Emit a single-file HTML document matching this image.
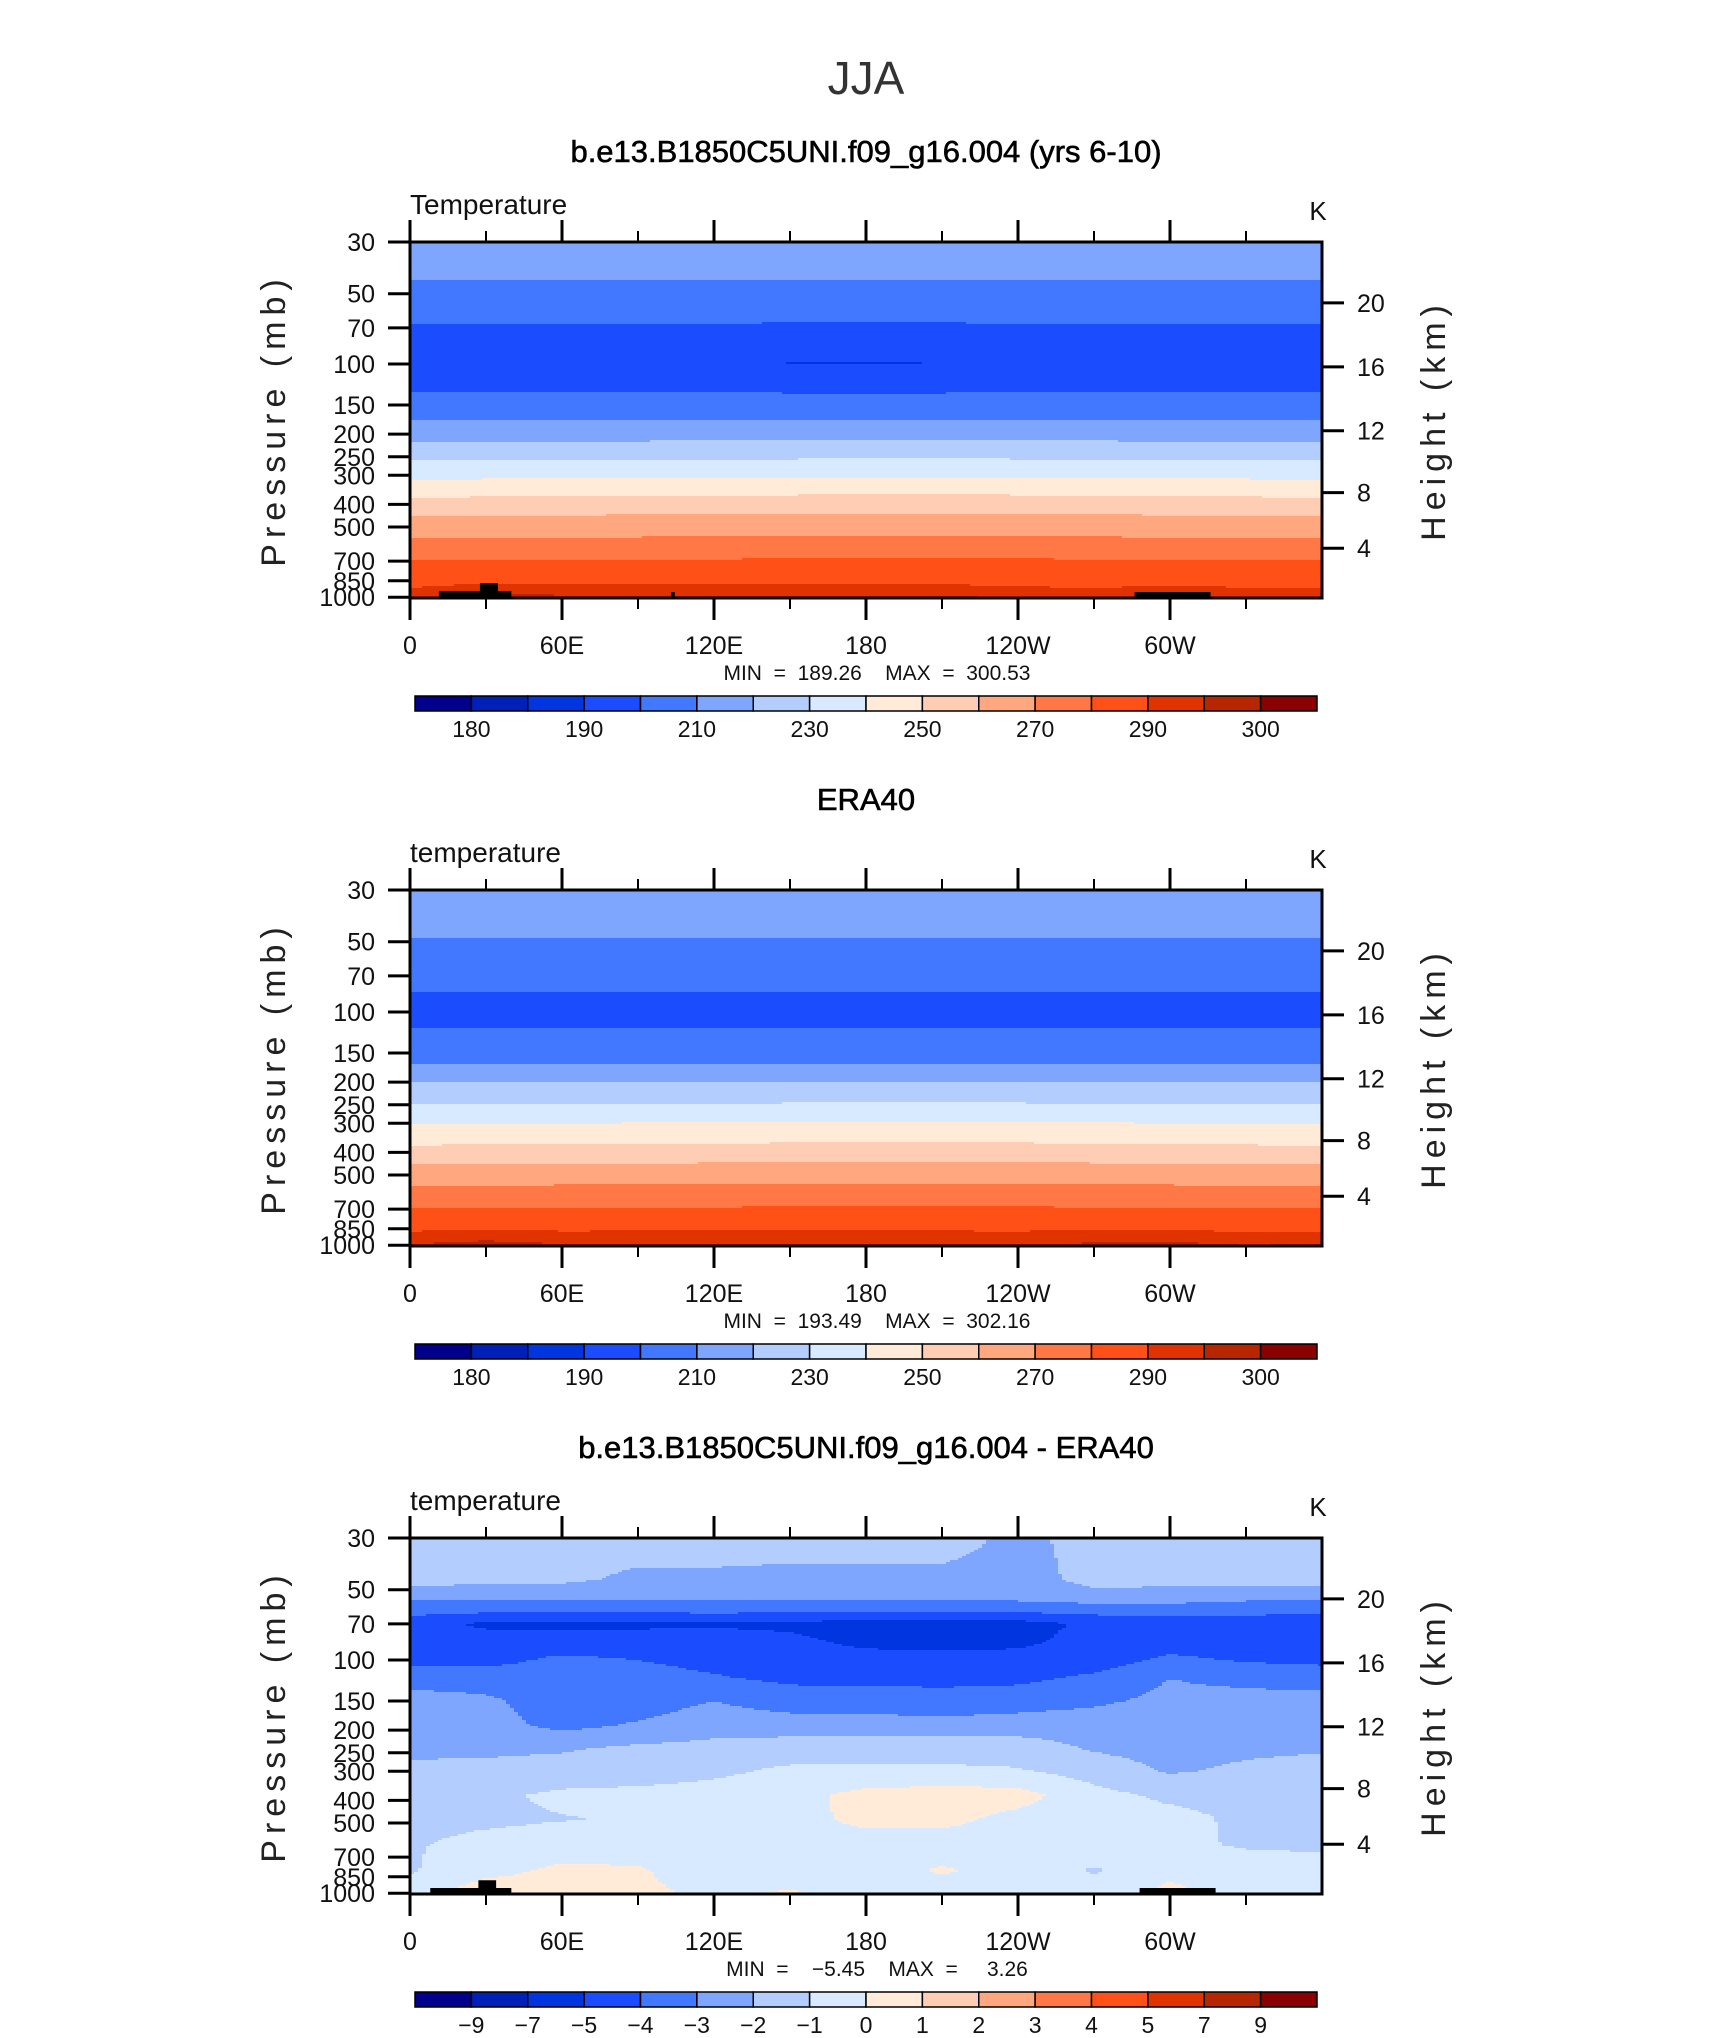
<!DOCTYPE html>
<html><head><meta charset="utf-8">
<style>
html,body{margin:0;padding:0;background:#fff;}
svg{display:block;font-family:"Liberation Sans",sans-serif;}
</style></head>
<body>
<svg id="fig" width="1710" height="2038" viewBox="0 0 1710 2038" xmlns="http://www.w3.org/2000/svg">
<rect x="0" y="0" width="1710" height="2038" fill="#fff"/>
<text x="866" y="94" font-size="46" text-anchor="middle" fill="#333">JJA</text>
</svg>
<script>
// ---------- data ----------
const tempLevels=[180,185,190,200,210,220,230,240,250,260,270,280,290,295,300];
const tempLabels=["","180","","190","","210","","230","","250","","270","","290","","300"];
const diffLevels=[-9,-7,-5,-4,-3,-2,-1,0,1,2,3,4,5,7,9];
const diffLabels=["","-9","-7","-5","-4","-3","-2","-1","0","1","2","3","4","5","7","9"];
const palette=["#00008c","#0020b8","#0035e0","#1b4dff","#4277ff","#7ea6ff","#b3cdff","#d8eaff","#ffebd8","#ffcdb3","#ffa880","#ff7845","#ff5018","#e13300","#b82600","#8b0000"];
const presTicks=[30,50,70,100,150,200,250,300,400,500,700,850,1000];
const heightTicks=[20,16,12,8,4];
const lonTicks=[0,60,120,180,240,300];
const lonTickLabels=["0","60E","120E","180","120W","60W"];
const anomLons=[0,30,60,90,120,150,180,210,240,270,300,330,360];

// panel 1 (model) profile
const modelPres=[30,44,67,100,132,174,214,257,309,368,443,552,689,908,1000];
const modelTemp=[216,210,200,190.6,200,210,220,230,240,250,260,270,280,290,294];
const modelStratAnom=[0.5,0.5,0.5,0.5,0.3,-0.9,-0.9,-0.8,0.3,0.5,0.5,0.5,0.5];
const modelTropAnom=[-0.8,-0.6,-0.3,0,0.3,0.6,0.8,0.8,0.6,0.2,-0.3,-0.6,-0.8];
const modelSfcAnom=[0,3,2,2,1.5,1.5,1.5,1.5,0.5,-0.5,1.5,0,-0.5];
// panel 2 (ERA40) profile
const eraPres=[30,48.5,81.6,100,117,166,200,247,299,368,446,549,689,880,1000];
const eraTemp=[216,210,200,197,200,210,220,230,240,250,260,270,280,290,294.5];
const eraStratAnom=[0,0,0,0,0,0,0,0,0,0,0,0,0];
const eraTropAnom=[-0.7,-0.5,-0.3,0,0.3,0.6,0.8,0.8,0.6,0.2,-0.3,-0.6,-0.7];
const eraSfcAnom=[1,2.5,1,1,1,1,0.8,0.6,0.5,1.5,2,0.5,1];
// panel 3 (difference) grid: rows = diffPres, columns = anomLons
const diffPres=[30,45,52,60,70,82,100,120,150,190,240,300,380,480,620,800,1000];
const diffP30=[-1.5,-1.5,-1.5,-1.5,-1.5,-1.5,-1.5,-1.5,-2.3,-1.6,-1.6,-1.5,-1.5];
const diffP45=[-1.6,-1.7,-1.8,-2.2,-2.2,-2.3,-2.3,-2.3,-2.4,-1.7,-1.8,-1.6,-1.6];
const diffP52=[-2.5,-2.5,-2.5,-2.5,-2.5,-2.5,-2.5,-2.5,-2.5,-2.2,-2.2,-2.5,-2.5];
const diffP60=[-3.5,-3.5,-3.5,-3.5,-3.5,-3.5,-3.5,-3.5,-3.5,-3.4,-3.4,-3.5,-3.5];
const diffP70=[-4.5,-5.2,-5.3,-5.2,-5.1,-5.2,-5.5,-5.6,-5.4,-4.8,-4.5,-4.6,-4.8];
const diffP82=[-4.5,-4.6,-4.6,-4.6,-4.7,-4.8,-5.3,-5.5,-5.3,-4.6,-4.5,-4.5,-4.5];
const diffP100=[-4.2,-4.3,-3.8,-4.0,-4.3,-4.5,-4.6,-4.6,-4.6,-4.5,-3.8,-4.1,-4.2];
const diffP120=[-3.5,-3.5,-3.5,-3.6,-3.9,-4.2,-4.2,-4.2,-4.2,-3.8,-3.0,-3.3,-3.5];
const diffP150=[-2.5,-2.8,-3.6,-3.5,-3.0,-3.5,-3.6,-3.7,-3.5,-3.2,-2.7,-2.6,-2.6];
const diffP190=[-2.5,-2.6,-3.3,-2.9,-2.4,-2.5,-2.5,-2.6,-2.5,-2.4,-2.3,-2.4,-2.4];
const diffP240=[-2.2,-2.2,-2.1,-1.8,-1.7,-1.5,-1.4,-1.4,-1.5,-2.1,-2.4,-2.2,-2.1];
const diffP300=[-1.8,-1.7,-1.6,-1.5,-1.2,-0.8,-0.8,-0.8,-0.9,-1.4,-2.1,-1.8,-1.6];
const diffP380=[-1.5,-1.2,-0.8,-0.7,-0.6,-0.3,0.3,0.5,0.4,-0.7,-1.2,-1.3,-1.3];
const diffP480=[-1.3,-1.2,-1.05,-0.9,-0.6,-0.4,0.3,0.3,-0.3,-0.5,-0.7,-1.2,-1.3];
const diffP620=[-1.1,-0.7,-0.5,-0.5,-0.5,-0.5,-0.5,-0.5,-0.5,-0.5,-0.8,-1.1,-1.2];
const diffP800=[-1.1,-0.3,0.2,0.1,-0.5,-0.5,-0.4,0.1,-0.3,-1.1,-0.3,-0.5,-0.5];
const diffP1000=[-0.5,0.6,0.3,0.2,-0.2,0.1,-0.4,-0.5,-0.5,-0.5,0.3,-0.5,-0.5];
const diffGrid=[diffP30,diffP45,diffP52,diffP60,diffP70,diffP82,diffP100,diffP120,diffP150,diffP190,diffP240,diffP300,diffP380,diffP480,diffP620,diffP800,diffP1000];

// ---------- geometry ----------
const NS="http://www.w3.org/2000/svg";
const svg=document.getElementById('fig');
const X0=410,X1=1322,PT=242,PB=598,PX=101.3;
function xOf(lon){return X0+(lon/360)*(X1-X0);}
function yOf(p,o){return o+PT+PX*Math.log(p/30);}
function pOfY(y,o){return 30*Math.exp((y-o-PT)/PX);}
function presOfHeight(km){const z=km*1000;if(z<=11000)return 1013.25*Math.pow(1-0.0065*z/288.15,5.2559);return 226.32*Math.exp(-(z-11000)/6341.6);}
function el(tag,attrs,parent){const e=document.createElementNS(NS,tag);for(const k in attrs)e.setAttribute(k,attrs[k]);(parent||svg).appendChild(e);return e;}
function txt(s,attrs,parent){const e=el('text',attrs,parent);e.textContent=s;return e;}
function interpProfile(P,T,p){if(p<=P[0])return T[0];for(let i=1;i<P.length;i++){if(p<=P[i]){const f=(Math.log(p)-Math.log(P[i-1]))/(Math.log(P[i])-Math.log(P[i-1]));return T[i-1]+f*(T[i]-T[i-1]);}}return T[T.length-1];}
function interpLon(arr,lon){const f=lon/30;let i=Math.floor(f);if(i>=arr.length-1)return arr[arr.length-1];const t=f-i;return arr[i]*(1-t)+arr[i+1]*t;}
function levelIndex(levels,v){let k=0;while(k<levels.length&&v>=levels[k])k++;return k;}

function profField(P,T,strat,trop,sfc){
  return function(lon,p){
    const ws=Math.exp(-Math.pow(Math.log(p/100),2)/0.1);
    const wt=Math.max(0,1-Math.abs(Math.log(p/420))/1.0);
    const wf=Math.max(0,(p-700)/300);
    return interpProfile(P,T,p)+interpLon(strat,lon)*ws+interpLon(trop,lon)*wt+interpLon(sfc,lon)*wf;
  };
}
function diffField(lon,p){
  const col=diffPres.map((pp,i)=>interpLon(diffGrid[i],lon));
  return interpProfile(diffPres,col,p);
}

function drawField(o,field,levels,name){
  const g=el('g',{});
  
  
  const CW=4,RH=2;
  for(let x=X0;x<X1;x+=CW){
    const lon=(x+CW/2-X0)/(X1-X0)*360;
    let runStart=o+PT,runIdx=-1;
    for(let y=o+PT;y<=o+PB;y+=RH){
      const idx=y<o+PB?levelIndex(levels,field(lon,pOfY(y+RH/2,o))):-2;
      if(idx!==runIdx){
        if(runIdx>=0){
          const r=el('rect',{x:x,y:runStart,width:CW+0.6,height:(y-runStart)+0.6,fill:palette[runIdx]},g);
          
          
        }
        runIdx=idx;runStart=y;
      }
    }
  }
}

function drawPanel(o,opt){
  txt(opt.title,{x:866,y:o+162,'font-size':31,'text-anchor':'middle',fill:'#000',stroke:'#000','stroke-width':0.6,});
  txt(opt.left,{x:410,y:o+214,'font-size':28,fill:'#111',});
  txt('K',{x:1318,y:o+220,'font-size':26,'text-anchor':'middle',fill:'#111',});
  drawField(o,opt.field,opt.levels,'contour-field');
  (opt.topo||[]).forEach(t=>{
    const r=el('rect',{x:xOf(t[0]),y:yOf(t[2],o),width:xOf(t[1])-xOf(t[0]),height:yOf(1000,o)-yOf(t[2],o),fill:'#000'});
    
    
  });
  el('rect',{x:X0,y:o+PT,width:X1-X0,height:PB-PT,fill:'none',stroke:'#000','stroke-width':3,});
  presTicks.forEach(p=>{
    const y=yOf(p,o);
    el('line',{x1:388,x2:X0,y1:y,y2:y,stroke:'#000','stroke-width':3,});
    txt(String(p),{x:375,y:y+9,'font-size':25,'text-anchor':'end',fill:'#111',});
  });
  heightTicks.forEach(h=>{
    const y=yOf(presOfHeight(h),o);
    el('line',{x1:X1,x2:1344,y1:y,y2:y,stroke:'#000','stroke-width':3,});
    txt(String(h),{x:1357,y:y+9,'font-size':25,fill:'#111',});
  });
  for(let lon=0;lon<=330;lon+=30){
    const x=xOf(lon),major=lon%60===0;
    el('line',{x1:x,x2:x,y1:o+PT,y2:o+PT-(major?22:11),stroke:'#000','stroke-width':major?3:2,});
    el('line',{x1:x,x2:x,y1:o+PB,y2:o+PB+(major?22:11),stroke:'#000','stroke-width':major?3:2,});
  }
  lonTicks.forEach((lon,i)=>{
    txt(lonTickLabels[i],{x:xOf(lon),y:o+654,'font-size':25,'text-anchor':'middle',fill:'#111',});
  });
  txt(opt.minmax,{x:877,y:o+680,'font-size':21,'text-anchor':'middle',fill:'#111','style':'white-space:pre',});
  txt('Pressure (mb)',{x:0,y:0,'font-size':34,'text-anchor':'middle','letter-spacing':'6',fill:'#222',transform:`translate(285,${o+420}) rotate(-90)`,});
  txt('Height (km)',{x:0,y:0,'font-size':34,'text-anchor':'middle','letter-spacing':'6',fill:'#222',transform:`translate(1445,${o+420}) rotate(-90)`,});
  const cb0=415,cb1=1317,bw=(cb1-cb0)/16;
  for(let i=0;i<16;i++){
    const r=el('rect',{x:cb0+i*bw,y:o+696,width:bw,height:15,fill:palette[i],stroke:'#000','stroke-width':1.5});
    
    
  }
  opt.cbLabels.forEach((s,i)=>{
    if(!s)return;
    txt(s.replace('-','\u2212'),{x:cb0+i*bw,y:o+737,'font-size':23,'text-anchor':'middle',fill:'#111',});
  });
}

drawPanel(0,{title:'b.e13.B1850C5UNI.f09_g16.004 (yrs 6-10)',left:'Temperature',
  field:profField(modelPres,modelTemp,modelStratAnom,modelTropAnom,modelSfcAnom),levels:tempLevels,
  topo:[[11.4,40,940],[27.6,34.7,870],[103,104.5,950],[286,316,950]],
  minmax:'MIN  =  189.26    MAX  =  300.53',cbLabels:tempLabels});
drawPanel(648,{title:'ERA40',left:'temperature',
  field:profField(eraPres,eraTemp,eraStratAnom,eraTropAnom,eraSfcAnom),levels:tempLevels,
  topo:[],minmax:'MIN  =  193.49    MAX  =  302.16',cbLabels:tempLabels});
drawPanel(1296,{title:'b.e13.B1850C5UNI.f09_g16.004 - ERA40',left:'temperature',
  field:diffField,levels:diffLevels,
  topo:[[8,40,950],[27,34,880],[288,318,950]],
  minmax:'MIN  =    \u22125.45    MAX  =     3.26',cbLabels:diffLabels});
</script>
</body></html>
